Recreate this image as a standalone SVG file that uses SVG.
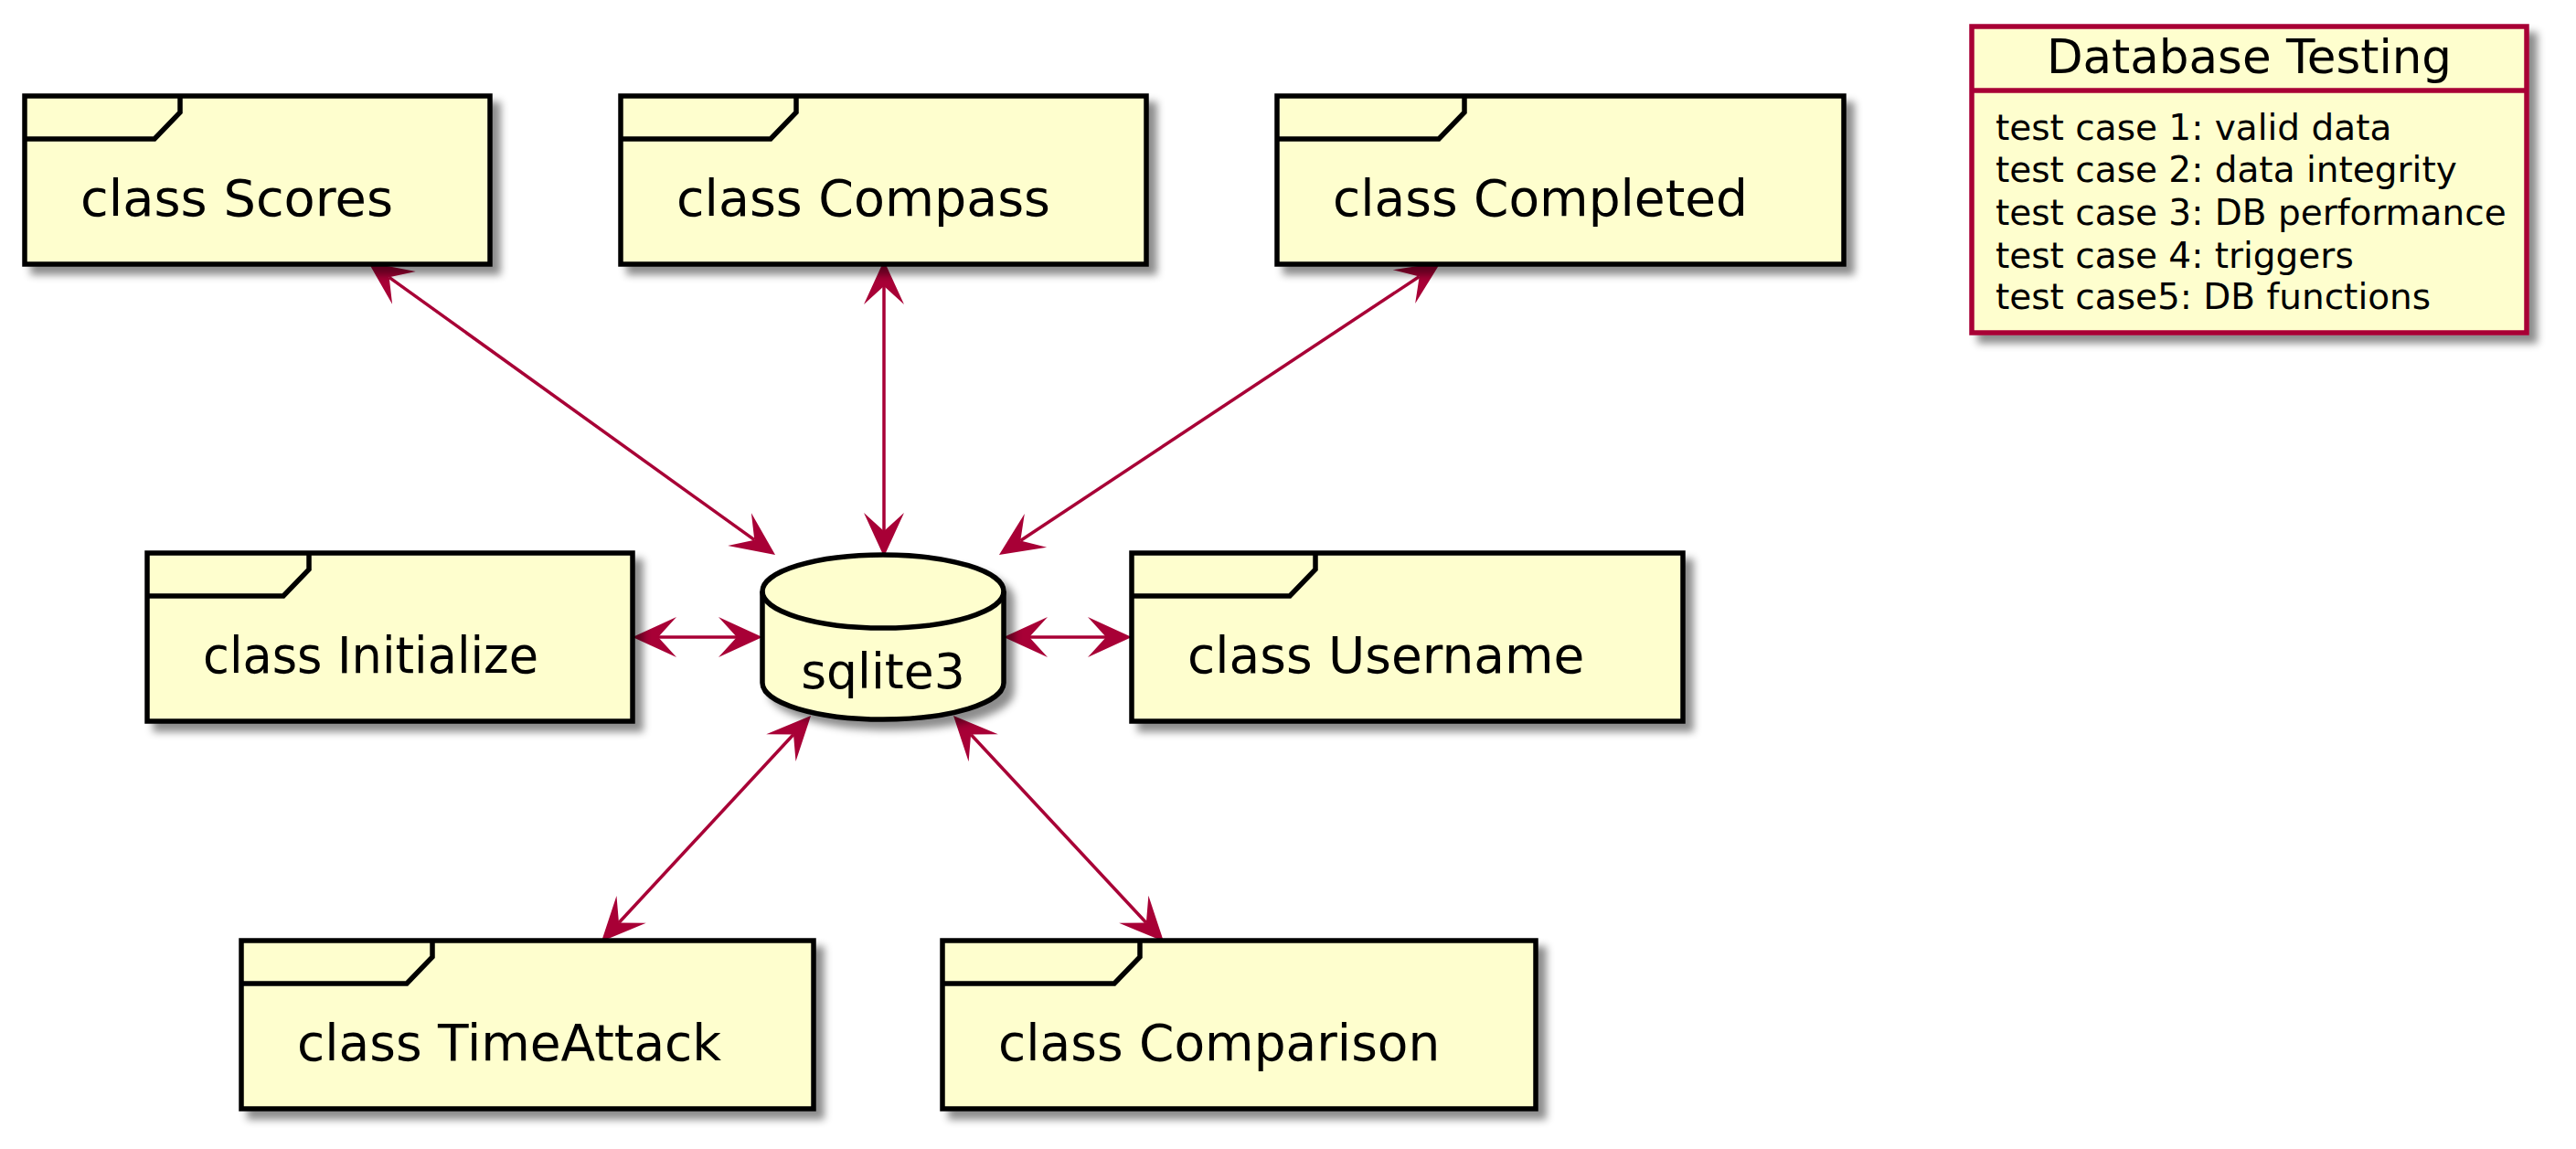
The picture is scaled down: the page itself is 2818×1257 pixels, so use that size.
<svg xmlns="http://www.w3.org/2000/svg" width="2818" height="1257" viewBox="0 0 2818 1257">
<defs>
<filter id="sh" x="-10%" y="-10%" width="130%" height="140%">
<feGaussianBlur in="SourceAlpha" stdDeviation="4" result="b"/>
<feOffset in="b" dx="9" dy="9" result="o"/>
<feColorMatrix in="o" type="matrix" values="0 0 0 0 0  0 0 0 0 0  0 0 0 0 0  0 0 0 0.45 0" result="s"/>
<feMerge><feMergeNode in="s"/><feMergeNode in="SourceGraphic"/></feMerge>
</filter>
<marker id="ah" markerUnits="userSpaceOnUse" orient="auto-start-reverse" refX="0" refY="0" markerWidth="60" markerHeight="50" overflow="visible">
<path d="M28,0 L-20,-22 L0,0 L-20,22 Z" fill="#A80036"/>
</marker>
</defs>
<style>
.box{fill:#FEFECE;stroke:#000;stroke-width:5.5;stroke-linejoin:miter}
.tab{fill:none;stroke:#000;stroke-width:5.5}
.lbl{font-family:"DejaVu Sans",Verdana,sans-serif;font-size:55px;fill:#000}
.db{font-family:"DejaVu Sans",Verdana,sans-serif;font-size:53.5px;fill:#000}
.con{stroke:#A80036;stroke-width:3.5;fill:none;marker-start:url(#ah);marker-end:url(#ah)}
.note{fill:#FEFECE;stroke:#A80036;stroke-width:5.5}
.nt{font-family:"DejaVu Sans",Verdana,sans-serif;font-size:51.5px;fill:#000}
.nb{font-family:"DejaVu Sans",Verdana,sans-serif;font-size:39px;fill:#000}
</style>
<rect width="2818" height="1257" fill="#FFFFFF"/>

<g id="connectors">
<line class="con" x1="425.7" y1="303.3" x2="825.3" y2="590.7"/>
<line class="con" x1="967" y1="313" x2="967" y2="581"/>
<line class="con" x1="1552.7" y1="302.5" x2="1116.3" y2="591.5"/>
<line class="con" x1="720" y1="697" x2="806" y2="697"/>
<line class="con" x1="1126" y1="697" x2="1210" y2="697"/>
<line class="con" x1="868" y1="803.5" x2="677" y2="1009.5"/>
<line class="con" x1="1062.1" y1="803.5" x2="1253.9" y2="1009.5"/>
</g>

<g id="scores">
<rect class="box" x="27" y="105" width="509" height="184" filter="url(#sh)"/>
<polyline class="tab" points="27,152 169,152 197,123 197,105"/>
<text class="lbl" x="88" y="236" textLength="342" lengthAdjust="spacingAndGlyphs">class Scores</text>
</g>
<g id="compass">
<rect class="box" x="679" y="105" width="575" height="184" filter="url(#sh)"/>
<polyline class="tab" points="679,152 843,152 871,123 871,105"/>
<text class="lbl" x="740" y="236" textLength="409" lengthAdjust="spacingAndGlyphs">class Compass</text>
</g>
<g id="completed">
<rect class="box" x="1397" y="105" width="620" height="184" filter="url(#sh)"/>
<polyline class="tab" points="1397,152 1574,152 1602,123 1602,105"/>
<text class="lbl" x="1458" y="236">class Completed</text>
</g>
<g id="initialize">
<rect class="box" x="161" y="605" width="531" height="184" filter="url(#sh)"/>
<polyline class="tab" points="161,652 310,652 338,623 338,605"/>
<text class="lbl" x="222" y="736" textLength="367" lengthAdjust="spacingAndGlyphs">class Initialize</text>
</g>
<g id="sqlite3">
<path class="box" d="M834,647 A132,40 0 0 1 1098,647 L1098,747 A132,40 0 0 1 834,747 Z" filter="url(#sh)"/>
<path class="tab" d="M834,647 A132,40 0 0 0 1098,647"/>
<text class="db" x="966" y="753" text-anchor="middle">sqlite3</text>
</g>
<g id="username">
<rect class="box" x="1238" y="605" width="603" height="184" filter="url(#sh)"/>
<polyline class="tab" points="1238,652 1411,652 1439,623 1439,605"/>
<text class="lbl" x="1299" y="736">class Username</text>
</g>
<g id="timeattack">
<rect class="box" x="264" y="1029" width="626" height="184" filter="url(#sh)"/>
<polyline class="tab" points="264,1076 445,1076 473,1047 473,1029"/>
<text class="lbl" x="325" y="1160">class TimeAttack</text>
</g>
<g id="comparison">
<rect class="box" x="1031" y="1029" width="649" height="184" filter="url(#sh)"/>
<polyline class="tab" points="1031,1076 1219,1076 1247,1047 1247,1029"/>
<text class="lbl" x="1092" y="1160">class Comparison</text>
</g>

<g id="database-testing">
<rect class="note" x="2157" y="29" width="607" height="335" filter="url(#sh)"/>
<line x1="2157" y1="99" x2="2764" y2="99" stroke="#A80036" stroke-width="5.5"/>
<text class="nt" x="2460.5" y="80" text-anchor="middle">Database Testing</text>
<text class="nb" x="2183" y="153">test case 1: valid data</text>
<text class="nb" x="2183" y="199">test case 2: data integrity</text>
<text class="nb" x="2183" y="246">test case 3: DB performance</text>
<text class="nb" x="2183" y="293">test case 4: triggers</text>
<text class="nb" x="2183" y="338">test case5: DB functions</text>
</g>
</svg>
